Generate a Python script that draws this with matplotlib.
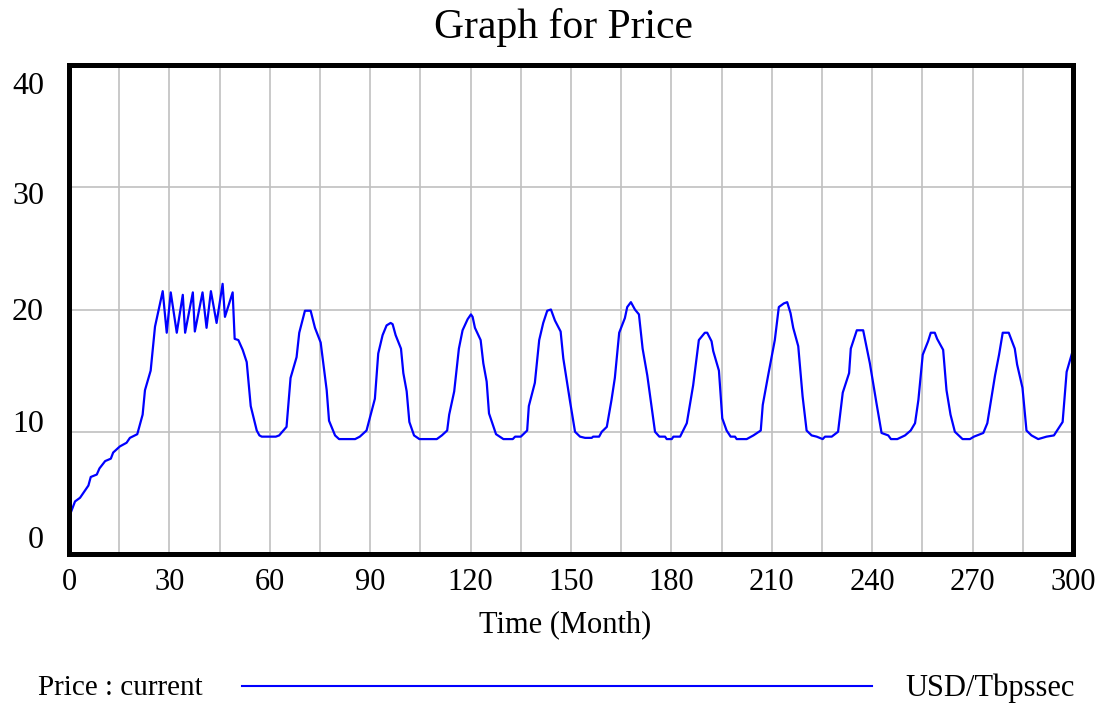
"""
Graph for Price - Vensim style line chart.
"""

import numpy as np
import matplotlib
matplotlib.use('Agg')
import matplotlib.pyplot as plt
from matplotlib.lines import Line2D
import matplotlib.transforms as mtransforms

#------------------------------------
#Data
#------------------------------------
time_month = [
    0.0, 1.8, 3.3, 5.8, 6.5, 8.3, 9.1, 10.8, 12.5, 13.2, 15.2, 17.2, 18.2, 20.4,
    22.0, 22.7, 24.4, 25.7, 28.0, 29.2, 30.4, 32.2, 34.0, 34.7, 37.0, 37.6, 39.9,
    41.1, 42.4, 44.1, 45.9, 46.6, 48.9, 49.5, 50.6, 51.9, 53.1, 54.3, 56.1, 56.9,
    57.6, 61.8, 62.8, 65.0, 66.2, 68.0, 68.8, 70.5, 72.2, 73.5, 75.2, 77.0, 77.7,
    79.5, 80.7, 85.5, 86.9, 88.9, 91.4, 92.4, 93.7, 94.9, 96.1, 96.7, 97.6, 99.2,
    99.9, 100.9, 101.7, 103.1, 104.7, 109.9, 111.4, 113.0, 113.6, 115.1, 116.5,
    117.6, 119.1, 120.1, 120.6, 121.3, 123.0, 123.8, 124.8, 125.5, 127.6, 129.8,
    132.6, 133.3, 135.0, 136.9, 137.4, 139.2, 140.5, 141.7, 142.9, 144.0, 145.2,
    146.9, 147.7, 149.7, 151.2, 152.7, 154.2, 156.2, 156.6, 158.4, 159.2, 160.7,
    162.1, 163.1, 164.4, 166.1, 166.8, 167.9, 169.1, 170.3, 171.4, 172.8, 175.1,
    176.4, 178.1, 178.6, 180.1, 180.6, 182.6, 184.6, 186.5, 188.2, 190.0, 190.7,
    192.0, 192.5, 194.2, 195.2, 196.5, 197.7, 199.0, 199.5, 202.5, 204.5, 206.7,
    207.3, 208.9, 210.9, 212.1, 213.6, 214.6, 215.6, 216.4, 217.9, 219.2, 220.4,
    221.9, 223.4, 225.2, 225.9, 227.9, 229.8, 231.2, 233.1, 233.6, 235.4, 237.3,
    238.4, 239.3, 241.3, 242.8, 244.8, 245.6, 247.5, 249.8, 251.5, 252.8, 253.8,
    255.1, 256.7, 257.5, 258.7, 259.4, 261.2, 262.2, 263.4, 264.7, 267.0, 269.2,
    270.4, 273.2, 274.4, 276.7, 277.9, 279.0, 280.8, 282.6, 283.3, 284.9, 286.1,
    287.6, 289.6, 292.1, 294.3, 296.9, 298.1, 300.0,
]
price_current = [
    3.0, 4.3, 4.6, 5.6, 6.3, 6.5, 7.0, 7.6, 7.8, 8.3, 8.8, 9.1, 9.5, 9.8,
    11.4, 13.4, 15.0, 18.6, 21.5, 18.1, 21.4, 18.1, 21.2, 18.1, 21.4, 18.2, 21.4,
    18.5, 21.5, 18.9, 22.1, 19.4, 21.4, 17.6, 17.5, 16.7, 15.7, 12.1, 10.1, 9.7,
    9.6, 9.6, 9.7, 10.4, 14.4, 16.1, 18.1, 19.9, 19.9, 18.5, 17.3, 13.4, 10.9,
    9.7, 9.4, 9.4, 9.6, 10.1, 12.7, 16.4, 17.9, 18.7, 18.9, 18.8, 17.9, 16.8,
    14.8, 13.3, 10.8, 9.7, 9.4, 9.4, 9.7, 10.1, 11.4, 13.3, 16.8,
    18.3, 19.2, 19.6, 19.4, 18.5, 17.5, 15.6, 14.1, 11.5, 9.8, 9.4,
    9.4, 9.6, 9.6, 10.1, 12.1, 14.0, 17.5, 18.9, 19.9, 20.0, 19.1,
    18.2, 16.0, 12.5, 10.0, 9.6, 9.5, 9.5, 9.6, 9.6, 10.0, 10.4,
    12.6, 14.4, 18.1, 19.3, 20.2, 20.6, 20.0, 19.6, 16.8, 14.6, 10.0,
    9.6, 9.6, 9.4, 9.4, 9.6, 9.6, 10.7, 13.8, 17.5, 18.1, 18.1,
    17.4, 16.6, 15.0, 11.1, 10.1, 9.6, 9.6, 9.4, 9.4, 9.7, 10.1,
    12.2, 14.6, 17.5, 20.2, 20.5, 20.6, 19.7, 18.5, 17.0, 12.9, 10.1,
    9.7, 9.6, 9.4, 9.6, 9.6, 10.0, 13.2, 14.8, 16.8, 18.3, 18.3,
    16.8, 15.6, 12.3, 9.9, 9.7, 9.4, 9.4, 9.7, 10.1, 10.7, 12.6,
    16.3, 17.4, 18.1, 18.1, 17.6, 16.7, 13.4, 11.4, 10.0, 9.4, 9.4,
    9.6, 9.9, 10.7, 14.6, 16.3, 18.1, 18.1, 16.8, 15.5, 13.6, 10.1,
    9.7, 9.4, 9.6, 9.7, 10.8, 14.9, 16.7,
]

x_ticks = np.arange(0, 301, 30)
x_grid = np.arange(0, 301, 15)
y_ticks = np.arange(0, 41, 10)
# Vensim spreads the y labels a bit, offsets in pixels (positive = down)
y_label_shift = [-17, -11, 0, 6, 18]

#------------------------------------
#Plot
#------------------------------------
plt.rcParams['font.family'] = ['Liberation Serif', 'DejaVu Serif']

fig = plt.figure(figsize=(11.01, 7.04), dpi=100)
ax = fig.add_axes([69/1101, 150/704, (1073-69)/1101, (554-65)/704])

ax.plot(time_month, price_current, '-', color='#0000ff', lw=1.6, zorder=3)

ax.set_xlim(0, 300)
ax.set_ylim(0, 40)
ax.set_xticks(x_ticks)
ax.set_xticks(x_grid, minor=True)
ax.set_yticks(y_ticks)
ax.grid(True, which='both', color='#c0c0c0', lw=1.2)
ax.tick_params(which='both', length=0)
ax.tick_params(axis='x', pad=10, labelsize=22)
ax.tick_params(axis='y', pad=18, labelsize=23)

for sp in ax.spines.values():
    sp.set_linewidth(3.6)
    sp.set_color('black')
    sp.set_zorder(4)

for lab, dy in zip(ax.get_yticklabels(), y_label_shift):
    off = mtransforms.ScaledTranslation(0, -dy/100, fig.dpi_scale_trans)
    lab.set_transform(lab.get_transform() + off)

ax.set_xlabel('Time (Month)', fontsize=22)
ax.xaxis.set_label_coords((565-69)/1004, (554-632)/489)
ax.xaxis.label.set_va('baseline')

fig.text(563/1101, (704-38)/704, 'Graph for Price', fontsize=30,
         ha='center', va='baseline')

# legend row
fig.text(38/1101, (704-688)/704, 'Price : current', fontsize=21,
         ha='left', va='center')
fig.add_artist(Line2D([242/1101, 872/1101], [(704-686)/704]*2,
                      color='#0000ff', lw=1.5, transform=fig.transFigure))
fig.text(1075/1101, (704-688)/704, 'USD/Tbpssec', fontsize=22,
         ha='right', va='center')

fig.savefig('out.png', dpi=100)
